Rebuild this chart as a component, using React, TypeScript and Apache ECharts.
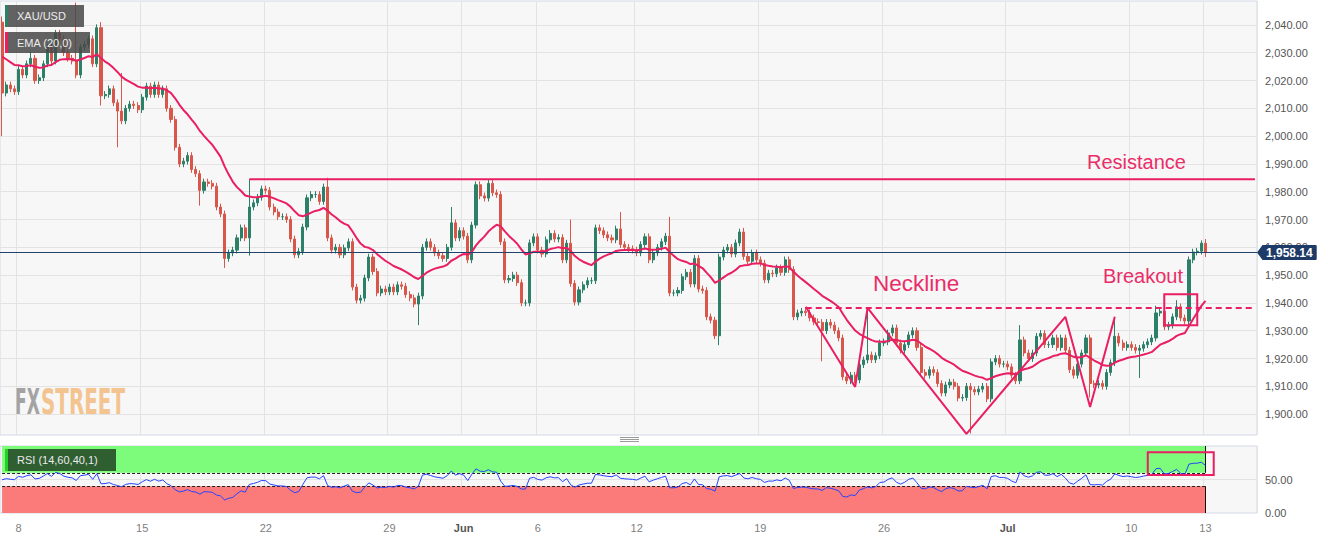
import { useEffect, useRef } from "react";
import * as echarts from "echarts";

// ---------------- data (4-hour candles, XAU/USD) ----------------
const firstOpen = 2041;
const closesSeg1 = [
  2015.5, 2018.4, 2017, 2016, 2024, 2022, 2026, 2028, 2020, 2021,
  2026, 2032, 2027, 2037, 2035, 2030, 2028, 2027, 2022, 2032,
  2033, 2035, 2026, 2039, 2014.5, 2015, 2017, 2012, 2009, 2005.5,
  2010, 2011.5, 2011, 2009.5, 2014, 2018, 2015, 2018.4, 2015, 2017,
  2010, 2006, 1996, 1990, 1991, 1993, 1988, 1986.5, 1980.5, 1983.5,
];
const closesSeg2 = [
  1983, 1982, 1974.5, 1972, 1956, 1958, 1959, 1963.4, 1967, 1963.4,
  1974.5, 1976, 1978, 1981, 1980.5, 1974.5, 1972.7, 1971, 1971, 1970,
  1963, 1957.3, 1958.5, 1967.3, 1977.8, 1979, 1979, 1976.5, 1981.7, 1963.4,
  1959, 1960, 1957.3, 1959.8, 1962, 1945.7, 1941, 1941.7, 1949, 1956.5,
  1951.3, 1943.6, 1945, 1944, 1945.7, 1944, 1946.5, 1946, 1943, 1941.8,
  1939.6, 1942.5,
];
const closesSeg3 = [
  1960, 1962, 1960, 1958, 1957, 1956, 1960, 1968.8, 1963.4, 1966,
  1964, 1955.5, 1968, 1982.5, 1978.5, 1977.7, 1983, 1979.6, 1979, 1962,
  1948.3, 1948.8, 1950, 1947.3, 1940, 1940, 1961.6, 1963.8, 1959, 1957.6,
  1962.7, 1965, 1963, 1963.5, 1955.5, 1961.5, 1947, 1940.3, 1944.7, 1946.5,
  1948, 1948, 1967, 1966, 1964.5, 1963.4, 1962.7, 1966.6, 1961, 1960,
];
const closesSeg4 = [
  1959.5, 1959, 1958, 1961, 1963.8, 1955.5, 1958, 1960, 1962, 1964,
  1943.6, 1943.6, 1944.5, 1949.4, 1951, 1946.8, 1956, 1945, 1944.5, 1935,
  1933.8, 1928.2, 1956.5, 1959, 1960, 1957.6, 1961.6, 1965.5, 1956.7, 1955,
  1958, 1955.5, 1954.3, 1948.3, 1950.7, 1950.5, 1952.6, 1951, 1955.5, 1952,
  1935, 1936.4, 1937, 1936.5, 1934.6, 1933.2, 1933, 1930, 1933,
];
const closesSeg5 = [
  1932, 1930, 1927.4, 1913.4, 1912, 1914, 1912.3, 1917.8, 1919.5, 1921.3,
  1919.6, 1921, 1925.6, 1926, 1929.2, 1931, 1925.6, 1923, 1925, 1928.5,
  1930, 1924, 1915, 1914, 1916, 1915, 1911, 1907.6, 1910.5, 1911.5,
  1910, 1905.8, 1906, 1910, 1908.8, 1908, 1909, 1910, 1905.5, 1918.8,
  1920, 1918, 1918, 1917, 1914, 1912, 1926.7, 1922,
];
const closesSeg6 = [
  1920, 1922, 1928, 1929, 1925, 1925, 1927.4, 1924, 1927.4, 1923,
  1916, 1914, 1918, 1922, 1927.4, 1911, 1910.5, 1911, 1910, 1915,
  1918.5, 1928, 1925.6, 1924, 1925, 1924, 1923, 1923.7, 1925, 1926,
  1927.4, 1936.4, 1937, 1931.4, 1932, 1935, 1938.6, 1934.6, 1933.5, 1955.5,
  1958.3, 1958.6, 1961.5, 1958.14,
];
// visible wick extremes: [candle index, high, low]
const wickExtremes: [number, number | null, number | null][] = [
  [0, 2043, 2000], [7, 2030.5, null], [18, 2048, null], [24, 2041, 2011],
  [28, null, 1996], [29, 2022.7, null], [48, null, 1975], [54, null, 1952.6],
  [60, 1984.5, 1957], [79, 1985, null], [101, null, 1932], [109, 1974.5, null],
  [138, 1970, null], [150, 1972.7, null], [162, 1971, null], [174, null, 1924.8],
  [180, 1967, null], [199, null, 1919], [210, 1938, null], [235, null, 1893],
  [247, 1932, null], [264, null, 1906], [270, 1935, null], [276, null, 1913],
  [280, 1939, null], [285, 1941, null], [288, null, 1932], [291, 1962.5, null],
  [292, 1963, 1956.5],
];
const wickPad = 1.2;
const emaPeriod = 20;
const emaSeed = 2030;
const rsiPeriod = 14;
const rsiSeedGain = 3.5;
const rsiSeedLoss = 1.6;
const rsiUpper = 60;
const rsiLower = 40;

const priceTicks = [1900, 1910, 1920, 1930, 1940, 1950, 1960, 1970, 1980, 1990, 2000, 2010, 2020, 2030, 2040];
const rsiTicks = [0, 50];
const dayLabels = ["8", "15", "22", "29", "Jun", "6", "12", "19", "26", "Jul", "10", "13"];
const dayLabelIdx = [4, 34, 64, 94, 112, 130, 154, 184, 214, 244, 274, 292];
const slotCount = 305;

const resistanceFrom = 60;
const resistanceLevel = 1984.5;
const necklineFrom = 195;
const necklineLevel = 1938.2;
const patternX = [195, 207, 210, 234, 258, 264, 270];
const patternY = [1938.6, 1909.8, 1938.2, 1892.9, 1935, 1902.6, 1935];
const breakoutBox = [282, 1943.1, 290, 1932];
const rsiBox = [278, 90.6, 294, 56.7];

// ---------------- derived ----------------
const closes = [...closesSeg1, ...closesSeg2, ...closesSeg3, ...closesSeg4, ...closesSeg5, ...closesSeg6];
const N = closes.length;
const lastIdx = N - 1;
const lastSlot = slotCount - 1;
const lastPrice = closes[lastIdx];
const wickMap = new Map(wickExtremes.map((w) => [w[0], w]));
const candles = closes.map((c, i) => {
  const o = i === 0 ? firstOpen : closes[i - 1];
  const w = wickMap.get(i);
  const hi = w && w[1] != null ? w[1] : Math.max(o, c) + wickPad;
  const lo = w && w[2] != null ? w[2] : Math.min(o, c) - wickPad;
  return [o, c, lo, hi];
});
const kEma = 2 / (emaPeriod + 1);
let emaPrev = emaSeed;
const ema = closes.map((c) => (emaPrev = c * kEma + emaPrev * (1 - kEma)));
let ag = rsiSeedGain;
let al = rsiSeedLoss;
const rsi = closes.map((c, i) => {
  const prev = i === 0 ? firstOpen : closes[i - 1];
  const d = c - prev;
  ag = (ag * (rsiPeriod - 1) + Math.max(d, 0)) / rsiPeriod;
  al = (al * (rsiPeriod - 1) + Math.max(-d, 0)) / rsiPeriod;
  return 100 - 100 / (1 + ag / al);
});
const slots = Array.from({ length: slotCount }, (_, i) => String(i));
const labelMap = new Map(dayLabelIdx.map((idx, j) => [idx, dayLabels[j]]));

const UP = "#2b8067";
const DOWN = "#d9574a";
const PINK = "#e91e63";
const TAG = "#1e3a66";
const FONT = '"Liberation Sans", Arial, sans-serif';
const fmt2 = (v: number) => v.toLocaleString("en-US", { minimumFractionDigits: 2, maximumFractionDigits: 2 });

function buildOption(): any {
  const gridLineStyle = { color: "#e3e3e3", width: 1, type: "solid" };
  const xBase = {
    type: "category",
    data: slots,
    boundaryGap: true,
    axisLine: { show: false },
    axisTick: { show: false },
    splitLine: { show: true, interval: (i: number) => labelMap.has(i), lineStyle: gridLineStyle },
  };
  return {
    animation: false,
    textStyle: { fontFamily: FONT },
    grid: [
      { left: 0, top: 1, width: 1257, height: 434, show: true, backgroundColor: "#f7f7f7", borderColor: "#d3d9e5", borderWidth: 1 },
      { left: 0, top: 446, width: 1257, height: 67, show: true, backgroundColor: "#f7f7f7", borderColor: "#d3d9e5", borderWidth: 1 },
    ],
    xAxis: [
      { ...xBase, gridIndex: 0, axisLabel: { show: false } },
      {
        ...xBase,
        gridIndex: 1,
        axisLabel: {
          show: true,
          interval: (i: number) => labelMap.has(i),
          formatter: (v: string) => {
            const t = labelMap.get(Number(v)) || "";
            return t === "Jun" || t === "Jul" ? `{b|${t}}` : t;
          },
          color: "#808080",
          fontSize: 11,
          margin: 9,
          rich: { b: { fontWeight: "bold", color: "#555", fontSize: 11 } },
        },
      },
    ],
    yAxis: [
      {
        type: "value", gridIndex: 0, position: "right", min: 1892.5, max: 2048.6, scale: true,
        splitLine: { show: false }, axisLine: { show: false }, axisTick: { show: false },
        axisLabel: { customValues: priceTicks, formatter: (v: number) => fmt2(v), color: "#555", fontSize: 11, margin: 8 },
      },
      {
        type: "value", gridIndex: 1, position: "right", min: 0, max: 100,
        splitLine: { show: false }, axisLine: { show: false }, axisTick: { show: false },
        axisLabel: { customValues: rsiTicks, formatter: (v: number) => fmt2(v), color: "#555", fontSize: 11, margin: 8 },
      },
    ],
    series: [
      {
        type: "line", xAxisIndex: 0, yAxisIndex: 0, data: [], silent: true, z: 1,
        markLine: { silent: true, z: 1, symbol: ["none", "none"], label: { show: false }, lineStyle: gridLineStyle, data: priceTicks.map((v) => ({ yAxis: v })) },
      },
      {
        type: "line", xAxisIndex: 1, yAxisIndex: 1, data: [], silent: true, z: 1,
        markLine: { silent: true, z: 1, symbol: ["none", "none"], label: { show: false }, lineStyle: gridLineStyle, data: [{ yAxis: 50 }] },
        markArea: {
          silent: true, z: 8,
          itemStyle: { color: "rgba(0,0,0,0)", borderColor: PINK, borderWidth: 2 },
          data: [[{ coord: [rsiBox[0], rsiBox[1]] }, { coord: [rsiBox[2], rsiBox[3]] }]],
        },
      },
      {
        type: "candlestick", name: "XAU/USD", xAxisIndex: 0, yAxisIndex: 0, data: candles, barWidth: 2.6, z: 3,
        itemStyle: { color: UP, color0: DOWN, borderColor: UP, borderColor0: DOWN, borderWidth: 1 },
        markLine: {
          silent: true, z: 6, symbol: ["none", "none"],
          data: [{
            yAxis: lastPrice,
            lineStyle: { color: "#24416b", width: 1, type: "solid" },
            label: {
              show: true, position: "end", distance: 5, formatter: () => fmt2(lastPrice),
              color: "#fff", backgroundColor: TAG, padding: [2, 4, 1, 4], fontSize: 12, fontWeight: "bold", borderRadius: 1,
            },
          }],
        },
      },
      {
        type: "line", name: "EMA", xAxisIndex: 0, yAxisIndex: 0, data: ema, showSymbol: false, symbol: "none", z: 4,
        lineStyle: { color: PINK, width: 2 }, silent: true,
        markArea: {
          silent: true, z: 7,
          itemStyle: { color: "rgba(0,0,0,0)", borderColor: PINK, borderWidth: 2 },
          data: [[{ coord: [breakoutBox[0], breakoutBox[1]] }, { coord: [breakoutBox[2], breakoutBox[3]] }]],
        },
      },
      {
        type: "line", xAxisIndex: 0, yAxisIndex: 0, symbol: "none", z: 5, silent: true,
        data: [[resistanceFrom, resistanceLevel], [lastSlot, resistanceLevel]],
        lineStyle: { color: PINK, width: 2 },
      },
      {
        type: "line", xAxisIndex: 0, yAxisIndex: 0, symbol: "none", z: 5, silent: true,
        data: [[necklineFrom, necklineLevel], [lastSlot, necklineLevel]],
        lineStyle: { color: PINK, width: 2, type: [6, 4] },
      },
      {
        type: "line", xAxisIndex: 0, yAxisIndex: 0, symbol: "none", z: 5, silent: true,
        data: patternX.map((x, j) => [x, patternY[j]]),
        lineStyle: { color: PINK, width: 2 },
      },
      {
        type: "line", name: "RSI", xAxisIndex: 1, yAxisIndex: 1, data: rsi, symbol: "none", z: 4, silent: true,
        lineStyle: { color: "#2443ff", width: 1 },
        markArea: {
          silent: true, z: 2,
          data: [
            [{ coord: [0, rsiUpper], itemStyle: { color: "#7dfc7b" } }, { coord: [lastIdx, 100] }],
            [{ coord: [0, 0], itemStyle: { color: "#fb7b7b" } }, { coord: [lastIdx, rsiLower] }],
          ],
        },
        markLine: {
          silent: true, z: 3, symbol: ["none", "none"], label: { show: false },
          data: [
            [{ coord: [0, rsiUpper], lineStyle: { color: "#222", width: 1, type: [3, 2] } }, { coord: [lastIdx, rsiUpper] }],
            [{ coord: [0, rsiLower], lineStyle: { color: "#222", width: 1, type: [3, 2] } }, { coord: [lastIdx, rsiLower] }],
            [{ coord: [lastIdx, rsiUpper], lineStyle: { color: "#111", width: 1, type: "solid" } }, { coord: [lastIdx, 100] }],
            [{ coord: [lastIdx, 0], lineStyle: { color: "#111", width: 1, type: "solid" } }, { coord: [lastIdx, rsiLower] }],
          ],
        },
      },
    ],
    graphic: [
      // legend tags
      { id: "t1", type: "rect", z: 100, shape: { x: 5, y: 5, width: 79, height: 22 }, style: { fill: "rgba(72,72,72,0.85)" } },
      { id: "t2", type: "rect", z: 101, shape: { x: 5, y: 5, width: 3, height: 22 }, style: { fill: UP } },
      { id: "t3", type: "text", z: 101, x: 17, y: 16, style: { text: "XAU/USD", fill: "#ececec", font: `11px ${FONT}`, verticalAlign: "middle", textVerticalAlign: "middle" } },
      { id: "t4", type: "rect", z: 100, shape: { x: 5, y: 32, width: 85, height: 21 }, style: { fill: "rgba(72,72,72,0.85)" } },
      { id: "t5", type: "rect", z: 101, shape: { x: 5, y: 32, width: 3, height: 21 }, style: { fill: PINK } },
      { id: "t6", type: "text", z: 101, x: 17, y: 42.5, style: { text: "EMA (20,0)", fill: "#ececec", font: `11px ${FONT}`, verticalAlign: "middle", textVerticalAlign: "middle" } },
      // RSI tag
      { id: "r1", type: "rect", z: 100, shape: { x: 5, y: 449, width: 111, height: 22 }, style: { fill: "#2f5e31" } },
      { id: "r2", type: "rect", z: 101, shape: { x: 5, y: 449, width: 3, height: 22 }, style: { fill: "#22d422" } },
      { id: "r3", type: "text", z: 101, x: 17, y: 460, style: { text: "RSI (14,60,40,1)", fill: "#ececec", font: `11px ${FONT}`, verticalAlign: "middle", textVerticalAlign: "middle" } },
      // watermark
      { id: "w1", type: "text", z: 2, x: 15, y: 401.5, scaleX: 0.476, style: { text: "FX", fill: "#a3a3a3", font: 'bold 36px "DejaVu Sans"', verticalAlign: "middle", textVerticalAlign: "middle" } },
      { id: "w2", type: "text", z: 2, x: 41, y: 401.5, scaleX: 0.553, style: { text: "STREET", fill: "#f3c48f", font: 'bold 36px "DejaVu Sans"', verticalAlign: "middle", textVerticalAlign: "middle" } },
      // panel separator handle
      { id: "h1", type: "line", z: 10, shape: { x1: 620, y1: 437.5, x2: 639, y2: 437.5 }, style: { stroke: "#9a9a9a", lineWidth: 1 } },
      { id: "h2", type: "line", z: 10, shape: { x1: 620, y1: 439.5, x2: 639, y2: 439.5 }, style: { stroke: "#9a9a9a", lineWidth: 1 } },
      { id: "h3", type: "line", z: 10, shape: { x1: 620, y1: 441.5, x2: 639, y2: 441.5 }, style: { stroke: "#9a9a9a", lineWidth: 1 } },
      // annotations
      { id: "a1", type: "text", z: 110, x: 1087, y: 162.3, style: { text: "Resistance", fill: "#ea2d68", font: `20px ${FONT}`, verticalAlign: "middle", textVerticalAlign: "middle" } },
      { id: "a2", type: "text", z: 110, x: 873, y: 283.8, style: { text: "Neckline", fill: "#ea2d68", font: `22.5px ${FONT}`, verticalAlign: "middle", textVerticalAlign: "middle" } },
      { id: "a3", type: "text", z: 110, x: 1103, y: 276.3, style: { text: "Breakout", fill: "#ea2d68", font: `20px ${FONT}`, verticalAlign: "middle", textVerticalAlign: "middle" } },
    ],
  };
}

export default function App() {
  const ref = useRef<HTMLDivElement>(null);
  useEffect(() => {
    document.body.style.margin = "0";
    const chart = echarts.init(ref.current!, null, { renderer: "svg" });
    chart.setOption(buildOption());
    // small pointer on the left of the last-price tag, placed through the price scale
    const py = chart.convertToPixel({ yAxisIndex: 0 }, lastPrice) as number;
    if (Number.isFinite(py)) {
      chart.setOption({
        graphic: [{
          id: "tagArrow", type: "polygon", z: 120,
          shape: { points: [[1257, py], [1262.5, py - 7.5], [1262.5, py + 7.5]] },
          style: { fill: TAG },
        }],
      });
    }
    return () => chart.dispose();
  }, []);
  return <div ref={ref} style={{ width: 1328, height: 539 }} />;
}
